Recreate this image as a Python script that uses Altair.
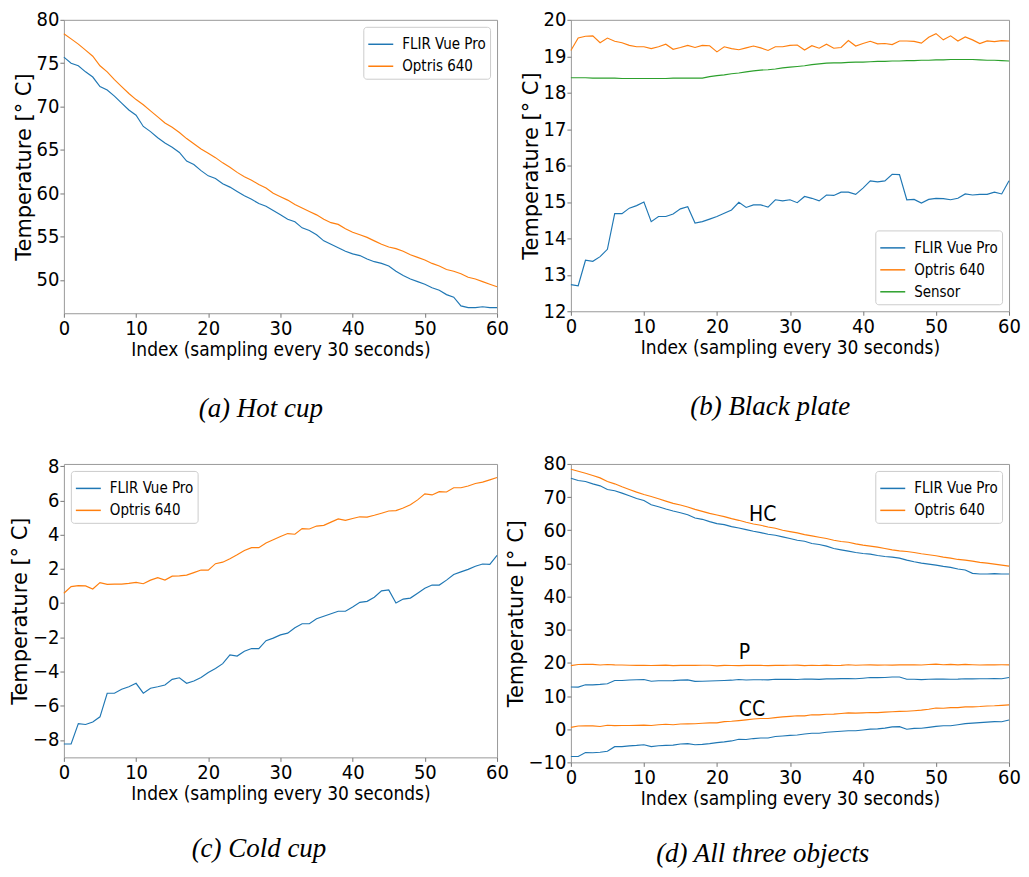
import altair as alt
import pandas as pd

idx = list(range(61))

hot_flir = [75.7, 75.0, 74.7, 74.0, 73.4, 72.3, 71.9, 71.2, 70.4, 69.6,
            69.0, 67.7, 67.1, 66.4, 65.8, 65.3, 64.7, 63.7, 63.3, 62.6,
            62.0, 61.7, 61.1, 60.7, 60.2, 59.7, 59.3, 58.8, 58.5, 58.0,
            57.5, 57.0, 56.7, 56.0, 55.7, 55.2, 54.5, 54.1, 53.7, 53.3,
            53.0, 52.8, 52.4, 52.1, 51.9, 51.6, 51.0, 50.5, 50.1, 49.8,
            49.5, 49.1, 48.8, 48.3, 48.0, 47.0, 46.8, 46.8, 46.9, 46.8,
            46.8]
hot_optris = [78.4, 77.8, 77.2, 76.5, 75.8, 74.7, 74.0, 73.1, 72.3, 71.5,
              70.8, 70.2, 69.5, 68.8, 68.1, 67.6, 67.0, 66.3, 65.7, 65.1,
              64.6, 64.1, 63.5, 63.0, 62.4, 61.9, 61.5, 61.0, 60.6, 60.0,
              59.6, 59.2, 58.7, 58.3, 57.9, 57.5, 57.0, 56.6, 56.4, 55.9,
              55.5, 55.2, 54.9, 54.5, 54.1, 53.8, 53.6, 53.3, 52.9, 52.6,
              52.3, 51.9, 51.6, 51.2, 51.0, 50.7, 50.3, 50.1, 49.8, 49.5,
              49.2]

plate_flir = [12.73, 12.70, 13.40, 13.37, 13.50, 13.70, 14.68, 14.68, 14.83, 14.90,
              15.00, 14.46, 14.60, 14.60, 14.67, 14.81, 14.87, 14.42, 14.46, 14.53,
              14.60, 14.69, 14.78, 14.99, 14.85, 14.92, 14.92, 14.86, 15.06, 15.03,
              15.06, 14.98, 15.15, 15.10, 15.03, 15.19, 15.18, 15.27, 15.27, 15.21,
              15.38, 15.58, 15.55, 15.58, 15.76, 15.75, 15.06, 15.07, 14.97, 15.07,
              15.10, 15.09, 15.06, 15.10, 15.22, 15.19, 15.21, 15.21, 15.27, 15.22,
              15.58]
plate_optris = [19.16, 19.50, 19.55, 19.56, 19.37, 19.50, 19.41, 19.37, 19.30, 19.26,
                19.26, 19.21, 19.26, 19.33, 19.19, 19.24, 19.30, 19.24, 19.30, 19.29,
                19.12, 19.26, 19.21, 19.18, 19.23, 19.28, 19.23, 19.16, 19.26, 19.26,
                19.30, 19.31, 19.17, 19.29, 19.22, 19.33, 19.22, 19.24, 19.43, 19.28,
                19.35, 19.41, 19.34, 19.35, 19.32, 19.42, 19.42, 19.41, 19.36, 19.52,
                19.62, 19.45, 19.56, 19.42, 19.53, 19.45, 19.35, 19.42, 19.40, 19.43,
                19.42]
plate_sensor = [18.41, 18.41, 18.41, 18.40, 18.40, 18.40, 18.40, 18.39, 18.39, 18.39,
                18.39, 18.39, 18.39, 18.39, 18.40, 18.40, 18.40, 18.40, 18.40, 18.44,
                18.47, 18.49, 18.52, 18.54, 18.57, 18.60, 18.62, 18.63, 18.65, 18.68,
                18.70, 18.72, 18.74, 18.77, 18.79, 18.81, 18.82, 18.82, 18.83, 18.84,
                18.84, 18.85, 18.86, 18.86, 18.87, 18.87, 18.88, 18.88, 18.89, 18.89,
                18.90, 18.90, 18.91, 18.91, 18.91, 18.91, 18.90, 18.89, 18.89, 18.88,
                18.87]

cold_flir = [-8.24, -8.24, -7.05, -7.10, -6.95, -6.65, -5.27, -5.27, -5.04, -4.89,
             -4.69, -5.27, -4.98, -4.89, -4.79, -4.46, -4.37, -4.69, -4.56, -4.35,
             -4.06, -3.83, -3.54, -3.03, -3.10, -2.82, -2.66, -2.66, -2.20, -2.05,
             -1.86, -1.76, -1.44, -1.21, -1.21, -0.92, -0.77, -0.63, -0.48, -0.48,
             -0.23, 0.04, 0.10, 0.34, 0.71, 0.77, 0.00, 0.23, 0.29, 0.57,
             0.86, 1.05, 1.05, 1.34, 1.67, 1.82, 1.97, 2.15, 2.28, 2.26,
             2.78]
cold_optris = [0.57, 0.96, 1.02, 1.00, 0.82, 1.19, 1.09, 1.11, 1.11, 1.15,
               1.21, 1.13, 1.34, 1.48, 1.34, 1.57, 1.59, 1.63, 1.78, 1.93,
               1.92, 2.30, 2.39, 2.59, 2.82, 3.07, 3.24, 3.24, 3.51, 3.70,
               3.89, 4.06, 4.02, 4.35, 4.33, 4.50, 4.54, 4.73, 4.92, 4.83,
               4.94, 5.04, 5.02, 5.13, 5.25, 5.38, 5.40, 5.56, 5.75, 6.03,
               6.38, 6.32, 6.51, 6.49, 6.74, 6.74, 6.84, 6.99, 7.07, 7.20,
               7.34]

series_names = ["FLIR Vue Pro", "Optris 640", "Sensor"]
series_colors = ["#1f77b4", "#ff7f0e", "#2ca02c"]

ann_x = [24.4, 23.0, 23.0]
ann_y = [62.8, 21.3, 4.1]
ann_text = ["HC", "P", "CC"]

x_ticks = [0, 10, 20, 30, 40, 50, 60]

SANS = "DejaVu Sans Condensed, DejaVu Sans, sans-serif"
YT_FONT = "DejaVu Sans"
SERIF = "Liberation Serif, DejaVu Serif, serif"


def long_df(pairs):
    rows = []
    for name, obj, vals in pairs:
        for i, v in zip(idx, vals):
            rows.append({"i": i, "v": v, "series": name, "obj": obj})
    return pd.DataFrame(rows)


def panel(df, names, ydomain, yticks, legend_orient, caption, w, h, toff, ann=None):
    cols = [series_colors[series_names.index(n)] for n in names]
    xenc = alt.X("i:Q", scale=alt.Scale(domain=[0, 60], nice=False, zero=False),
                 axis=alt.Axis(values=x_ticks, labelOverlap=False,
                               title="Index (sampling every 30 seconds)"))
    yenc = alt.Y("v:Q", scale=alt.Scale(domain=ydomain, nice=False, zero=False),
                 axis=alt.Axis(values=yticks, labelOverlap=False, title="Temperature [° C]"))
    lines = alt.Chart(df).mark_line(strokeWidth=1.15).encode(
        x=xenc, y=yenc,
        color=alt.Color("series:N", sort=names,
                        scale=alt.Scale(domain=names, range=cols),
                        legend=alt.Legend(orient=legend_orient, title=None)),
        detail="obj:N",
    )
    ch = lines
    if ann is not None:
        txt = alt.Chart(ann).mark_text(align="left", baseline="alphabetic", font=SANS,
                                       fontSize=21, color="black").encode(
            x=xenc, y=yenc, text="t:N")
        ch = alt.layer(lines, txt)
    return ch.properties(
        width=w, height=h,
        title=alt.TitleParams(caption, orient="bottom", anchor="middle", frame="bounds",
                              offset=toff))


pa = panel(long_df([("FLIR Vue Pro", "HC", hot_flir), ("Optris 640", "HC", hot_optris)]),
           ["FLIR Vue Pro", "Optris 640"], [46.15, 80], [50, 55, 60, 65, 70, 75, 80],
           "top-right", "(a) Hot cup", 434, 294, 37)
pb = panel(long_df([("FLIR Vue Pro", "P", plate_flir), ("Optris 640", "P", plate_optris),
                    ("Sensor", "P", plate_sensor)]),
           series_names, [12, 20], [12, 13, 14, 15, 16, 17, 18, 19, 20],
           "bottom-right", "(b) Black plate", 439, 292, 37)
pc = panel(long_df([("FLIR Vue Pro", "CC", cold_flir), ("Optris 640", "CC", cold_optris)]),
           ["FLIR Vue Pro", "Optris 640"], [-9.02, 8.13], [-8, -6, -4, -2, 0, 2, 4, 6, 8],
           "top-left", "(c) Cold cup", 434, 294, 33)
ann_df = pd.DataFrame({"i": ann_x, "v": ann_y, "t": ann_text})
pd_ = panel(long_df([("FLIR Vue Pro", "HC", hot_flir), ("Optris 640", "HC", hot_optris),
                     ("FLIR Vue Pro", "P", plate_flir), ("Optris 640", "P", plate_optris),
                     ("FLIR Vue Pro", "CC", cold_flir), ("Optris 640", "CC", cold_optris)]),
            ["FLIR Vue Pro", "Optris 640"], [-10, 80], [-10, 0, 10, 20, 30, 40, 50, 60, 70, 80],
            "top-right", "(d) All three objects", 439, 299, 33, ann=ann_df)

chart = alt.concat(pa, pb, pc, pd_, columns=2, bounds="flush",
                   spacing={"row": 151, "column": 74}).resolve_scale(
    x="independent", y="independent", color="independent"
).resolve_legend(color="independent").properties(
    padding={"left": 0, "top": 0, "right": 0, "bottom": 0}
).configure_view(stroke="#999999", strokeWidth=1).configure_axis(
    grid=False, domain=False, tickSize=4, tickColor="#777777", tickWidth=1,
    labelFont=SANS, labelFontSize=20, labelColor="black", labelPadding=1,
    labelFlush=False, labelOverlap=False,
    titleColor="black", titleFontWeight="normal",
).configure_axisX(titleFont=SANS, titleFontSize=19, titlePadding=2).configure_axisY(
    titleFont=YT_FONT, titleFontSize=21, titlePadding=2
).configure_legend(
    labelFont=SANS, labelFontSize=15, labelColor="black", symbolType="stroke",
    symbolSize=625, symbolStrokeWidth=1.5, strokeColor="#cccccc", fillColor="white",
    cornerRadius=3, padding=4, labelOffset=8, rowPadding=0, offset=7,
).configure_title(font=SERIF, fontSize=27, fontStyle="italic", fontWeight="normal",
                  color="black")

chart.save("out.html", embed_options={"renderer": "svg", "actions": False})
